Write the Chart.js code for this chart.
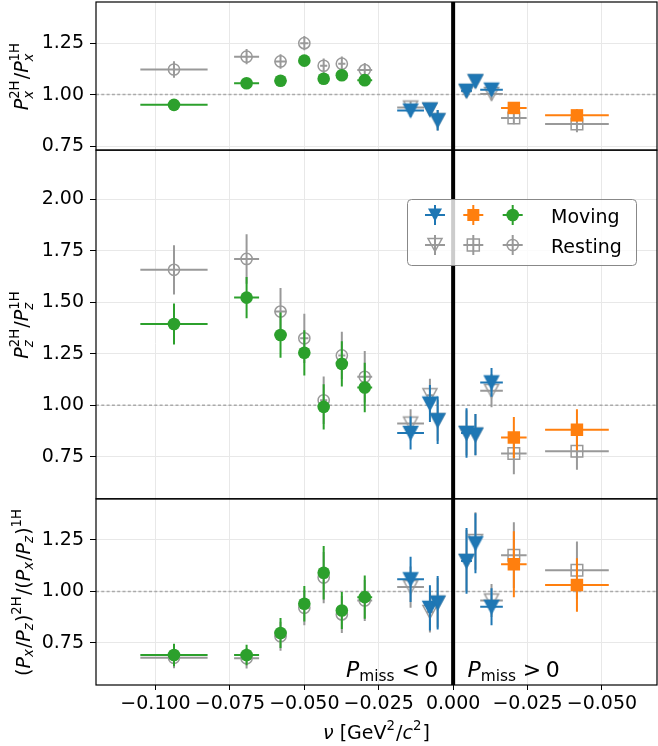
<!DOCTYPE html>
<html>
<head>
<meta charset="utf-8">
<script src="https://cdn.jsdelivr.net/npm/chart.js@4.4.1/dist/chart.umd.min.js"></script>
<style>
    body { margin: 0; background: #ffffff; }
    #wrap { width: 658px; height: 746px; position: relative; }
</style>
</head>
<body>
<div id="wrap"><canvas id="polChart"></canvas></div>
<script>
// nu of each bin. The Pmiss > 0 half of the axis is mirrored, so there axis x = -nu
const greenNu = [-0.0938, -0.0694, -0.0580, -0.0500, -0.0435, -0.0374, -0.0297];
const greenNuErr = [0.0113, 0.0042, 0.0020, 0.0014, 0.0012, 0.0012, 0.0025];
const blueNu = [-0.0143, -0.0078, -0.0052, -0.0045, -0.0075, -0.0129];
const blueNuErr = [0.0045, 0.0010, 0.0008, 0.0018, 0.0010, 0.0038];
const blueSide = [-1, -1, -1, 1, 1, 1];
const orangeNu = [-0.0204, -0.0416];
const orangeNuErr = [0.0043, 0.0107];

// P_x ratio (top panel)
const pxMoving = { green: [0.950, 1.055, 1.067, 1.165, 1.077, 1.094, 1.070], blue: [0.922, 0.927, 0.875, 1.018, 1.065, 1.024], orange: [0.935, 0.899] };
const pxMovingErr = { green: [0.015, 0.015, 0.015, 0.016, 0.016, 0.016, 0.018], blue: [0.03, 0.03, 0.05, 0.03, 0.03, 0.03], orange: [0.025, 0.03] };
const pxResting = { green: [1.122, 1.184, 1.161, 1.250, 1.140, 1.150, 1.119], blue: [0.937, 0.927, 0.875, 1.016, 1.064, 1.003], orange: [0.886, 0.857] };
const pxRestingErr = { green: [0.040, 0.037, 0.035, 0.035, 0.035, 0.035, 0.035], blue: [0.03, 0.03, 0.05, 0.03, 0.03, 0.03], orange: [0.03, 0.04] };

// P_z ratio (middle panel)
const pzMoving = { green: [1.395, 1.523, 1.341, 1.255, 0.992, 1.201, 1.086], blue: [0.865, 1.008, 0.927, 0.865, 0.857, 1.111], orange: [0.843, 0.881] };
const pzMovingErr = { green: [0.10, 0.10, 0.11, 0.11, 0.11, 0.11, 0.12], blue: [0.08, 0.09, 0.115, 0.12, 0.10, 0.07], orange: [0.10, 0.10] };
const pzResting = { green: [1.658, 1.711, 1.455, 1.325, 1.024, 1.242, 1.138], blue: [0.911, 1.049, 0.927, 0.865, 0.857, 1.070], orange: [0.765, 0.776] };
const pzRestingErr = { green: [0.12, 0.12, 0.115, 0.12, 0.115, 0.115, 0.125], blue: [0.07, 0.08, 0.10, 0.11, 0.10, 0.08], orange: [0.10, 0.09] };

// (Px/Pz) double ratio (bottom panel)
const ratioMoving = { green: [0.691, 0.691, 0.798, 0.940, 1.091, 0.907, 0.972], blue: [1.059, 0.920, 0.945, 1.148, 1.234, 0.925], orange: [1.132, 1.031] };
const ratioMovingErr = { green: [0.055, 0.05, 0.073, 0.086, 0.13, 0.09, 0.105], blue: [0.11, 0.11, 0.13, 0.16, 0.146, 0.09], orange: [0.16, 0.13] };
const ratioResting = { green: [0.677, 0.675, 0.782, 0.920, 1.067, 0.888, 0.956], blue: [1.021, 0.900, 0.945, 1.148, 1.245, 0.956], orange: [1.176, 1.103] };
const ratioRestingErr = { green: [0.05, 0.05, 0.07, 0.085, 0.125, 0.09, 0.10], blue: [0.10, 0.10, 0.12, 0.15, 0.14, 0.08], orange: [0.16, 0.14] };

const xRange = [-0.12, 0.0685];
const xTickValues = [-0.1, -0.075, -0.05, -0.025, 0, 0.025, 0.05];
const xTickLabels = ["\u22120.100", "\u22120.075", "\u22120.050", "\u22120.025", "0.000", "\u22120.025", "\u22120.050"];
const pxRange = [0.73, 1.45];
const pzRange = [0.545, 2.24];
const ratioRange = [0.545, 1.45];
const pxTicks = [0.75, 1.0, 1.25];
const pzTicks = [0.75, 1.0, 1.25, 1.5, 1.75, 2.0];
const ratioTicks = [0.75, 1.0, 1.25];

const colors = { blue: "#1f77b4", orange: "#ff7f0e", green: "#2ca02c", rest: "#999999" };
const FONT = '"DejaVu Sans", sans-serif';
const tickFont = { family: "DejaVu Sans", size: 19 };

function axisX(nu, side) {
    return side > 0 ? -nu : nu;
}

const groups = {
    green: { nu: greenNu, err: greenNuErr, side: greenNu.map(() => -1) },
    blue: { nu: blueNu, err: blueNuErr, side: blueSide },
    orange: { nu: orangeNu, err: orangeNuErr, side: orangeNu.map(() => 1) },
};

function triangleMarker(fill, stroke) {
    const c = document.createElement("canvas");
    c.width = 18;
    c.height = 18;
    const g = c.getContext("2d");
    g.beginPath();
    g.moveTo(2, 2.5);
    g.lineTo(16, 2.5);
    g.lineTo(9, 15.5);
    g.closePath();
    g.lineWidth = 1.5;
    if (fill) {
        g.fillStyle = fill;
        g.fill();
        g.strokeStyle = fill;
        g.stroke();
    } else {
        g.strokeStyle = stroke;
        g.stroke();
    }
    return c;
}

const markerStyles = {
    green: {
        moving: { pointStyle: "circle", pointRadius: 6.3, pointBackgroundColor: colors.green, pointBorderColor: colors.green, pointBorderWidth: 0 },
        resting: { pointStyle: "circle", pointRadius: 5.6, pointBackgroundColor: "rgba(0,0,0,0)", pointBorderColor: colors.rest, pointBorderWidth: 1.5 },
    },
    orange: {
        moving: { pointStyle: "rect", pointRadius: 8.8, pointBackgroundColor: colors.orange, pointBorderColor: colors.orange, pointBorderWidth: 0 },
        resting: { pointStyle: "rect", pointRadius: 8.2, pointBackgroundColor: "rgba(0,0,0,0)", pointBorderColor: colors.rest, pointBorderWidth: 1.5 },
    },
    blue: {
        moving: { pointStyle: triangleMarker(colors.blue, null), pointRadius: 6 },
        resting: { pointStyle: triangleMarker(null, colors.rest), pointRadius: 6 },
    },
};

const panels = [
    { id: "yPx", moving: pxMoving, movingErr: pxMovingErr, resting: pxResting, restingErr: pxRestingErr },
    { id: "yPz", moving: pzMoving, movingErr: pzMovingErr, resting: pzResting, restingErr: pzRestingErr },
    { id: "yRatio", moving: ratioMoving, movingErr: ratioMovingErr, resting: ratioResting, restingErr: ratioRestingErr },
];

function makePoints(color, values, errs) {
    const g = groups[color];
    return values.map((v, i) => ({
        x: axisX(g.nu[i], g.side[i]),
        y: v,
        xe: g.err[i],
        ye: errs[i],
    }));
}

const datasets = [];
panels.forEach((p) => {
    ["green", "blue", "orange"].forEach((color) => {
        datasets.push(Object.assign({
            label: color + " resting",
            yAxisID: p.id,
            order: 2,
            errColor: colors.rest,
            data: makePoints(color, p.resting[color], p.restingErr[color]),
        }, markerStyles[color].resting));
        datasets.push(Object.assign({
            label: color + " moving",
            yAxisID: p.id,
            order: 1,
            errColor: colors[color],
            data: makePoints(color, p.moving[color], p.movingErr[color]),
        }, markerStyles[color].moving));
    });
});

function yScale(range, ticks) {
    return {
        type: "linear",
        position: "left",
        stack: "panels",
        stackWeight: range[1] - range[0],
        min: range[0],
        max: range[1],
        afterBuildTicks: (s) => { s.ticks = ticks.map((v) => ({ value: v })); },
        afterFit: (s) => { s.width = 96; s.paddingTop = 0; s.paddingBottom = 0; },
        ticks: { callback: (v) => v.toFixed(2), font: tickFont, color: "#000000", padding: 6 },
        grid: { color: "#e8e8e8", lineWidth: 1, tickColor: "#000000", tickLength: 6 },
        border: { display: false },
    };
}

// error bars drawn just before each dataset's markers, clipped to its panel
const errorBars = {
    id: "errorBars",
    beforeDatasetDraw(chart, args) {
        const ds = chart.data.datasets[args.index];
        const xs = chart.scales.x;
        const ys = chart.scales[ds.yAxisID];
        const area = chart.chartArea;
        const ctx = chart.ctx;
        ctx.save();
        ctx.beginPath();
        ctx.rect(area.left, ys.top, area.right - area.left, ys.bottom - ys.top);
        ctx.clip();
        ctx.strokeStyle = ds.errColor;
        ctx.lineWidth = 2;
        ds.data.forEach((pt) => {
            const cx = xs.getPixelForValue(pt.x);
            const cy = ys.getPixelForValue(pt.y);
            ctx.beginPath();
            ctx.moveTo(xs.getPixelForValue(pt.x - pt.xe), cy);
            ctx.lineTo(xs.getPixelForValue(pt.x + pt.xe), cy);
            ctx.moveTo(cx, ys.getPixelForValue(pt.y - pt.ye));
            ctx.lineTo(cx, ys.getPixelForValue(pt.y + pt.ye));
            ctx.stroke();
        });
        ctx.restore();
    },
};

function fontOf(size, italic) {
    return (italic ? "italic " : "") + size + "px " + FONT;
}

function partWidth(ctx, p, size) {
    if (p.gap !== undefined) return p.gap * size;
    if (p.t !== undefined) {
        ctx.font = fontOf(size, p.i);
        return ctx.measureText(p.t).width;
    }
    const s = size * 0.7;
    let w = 0;
    if (p.sub) {
        ctx.font = fontOf(s, p.subI);
        w = Math.max(w, ctx.measureText(p.sub).width);
    }
    if (p.sup) {
        ctx.font = fontOf(s, false);
        w = Math.max(w, ctx.measureText(p.sup).width);
    }
    return w + size * 0.06;
}

function richWidth(ctx, parts, size) {
    return parts.reduce((w, p) => w + partWidth(ctx, p, size), 0);
}

function drawRich(ctx, parts, x, y, size) {
    parts.forEach((p) => {
        if (p.t !== undefined) {
            ctx.font = fontOf(size, p.i);
            ctx.fillText(p.t, x, y);
        } else if (p.gap === undefined) {
            const s = size * 0.7;
            if (p.sup) {
                ctx.font = fontOf(s, false);
                ctx.fillText(p.sup, x, y - size * 0.47);
            }
            if (p.sub) {
                ctx.font = fontOf(s, p.subI);
                ctx.fillText(p.sub, x, y + size * (p.sup ? 0.3 : 0.17));
            }
        }
        x += partWidth(ctx, p, size);
    });
}

function drawVertical(ctx, parts, xBase, yCenter, size) {
    const w = richWidth(ctx, parts, size);
    ctx.save();
    ctx.translate(xBase, yCenter);
    ctx.rotate(-Math.PI / 2);
    drawRich(ctx, parts, -w / 2, 0, size);
    ctx.restore();
}

const pxLabel = [{ t: "P", i: 1 }, { sub: "x", subI: 1, sup: "2H" }, { t: "/" }, { t: "P", i: 1 }, { sub: "x", subI: 1, sup: "1H" }];
const pzLabel = [{ t: "P", i: 1 }, { sub: "z", subI: 1, sup: "2H" }, { t: "/" }, { t: "P", i: 1 }, { sub: "z", subI: 1, sup: "1H" }];
const ratioLabel = [
    { t: "(" }, { t: "P", i: 1 }, { sub: "x", subI: 1 }, { t: "/" }, { t: "P", i: 1 }, { sub: "z", subI: 1 }, { t: ")" }, { sup: "2H" },
    { t: "/(" }, { t: "P", i: 1 }, { sub: "x", subI: 1 }, { t: "/" }, { t: "P", i: 1 }, { sub: "z", subI: 1 }, { t: ")" }, { sup: "1H" },
];
const xLabel = [{ t: "\u03bd", i: 1 }, { t: " [GeV" }, { sup: "2" }, { t: "/" }, { t: "c", i: 1 }, { sup: "2" }, { t: "]" }];
const missNeg = [{ t: "P", i: 1 }, { sub: "miss" }, { gap: 0.25 }, { t: "<" }, { gap: 0.2 }, { t: "0" }];
const missPos = [{ t: "P", i: 1 }, { sub: "miss" }, { gap: 0.25 }, { t: ">" }, { gap: 0.2 }, { t: "0" }];

function drawMarker(ctx, kind, filled, color, x, y) {
    ctx.save();
    ctx.strokeStyle = color;
    ctx.lineWidth = 2;
    ctx.beginPath();
    ctx.moveTo(x - 10, y);
    ctx.lineTo(x + 10, y);
    ctx.moveTo(x, y - 10);
    ctx.lineTo(x, y + 10);
    ctx.stroke();
    ctx.lineWidth = 1.5;
    ctx.fillStyle = color;
    ctx.beginPath();
    if (kind === "tri") {
        ctx.moveTo(x - 7, y - 6.5);
        ctx.lineTo(x + 7, y - 6.5);
        ctx.lineTo(x, y + 6.5);
        ctx.closePath();
    } else if (kind === "sq") {
        ctx.rect(x - 6, y - 6, 12, 12);
    } else {
        ctx.arc(x, y, filled ? 6.3 : 5.6, 0, Math.PI * 2);
    }
    if (filled) ctx.fill(); else ctx.stroke();
    ctx.restore();
}

const decorations = {
    id: "decorations",
    beforeDatasetsDraw(chart) {
        const { ctx, chartArea, scales } = chart;
        ctx.save();
        ctx.strokeStyle = "#aaaaaa";
        ctx.lineWidth = 1.5;
        ctx.setLineDash([3, 2.3]);
        panels.forEach((p) => {
            const y = scales[p.id].getPixelForValue(1);
            ctx.beginPath();
            ctx.moveTo(chartArea.left, y);
            ctx.lineTo(chartArea.right, y);
            ctx.stroke();
        });
        ctx.setLineDash([]);
        const x0 = scales.x.getPixelForValue(0);
        ctx.strokeStyle = "#000000";
        ctx.lineWidth = 4;
        ctx.beginPath();
        ctx.moveTo(x0, chartArea.top);
        ctx.lineTo(x0, chartArea.bottom);
        ctx.stroke();
        ctx.restore();
    },
    afterDraw(chart) {
        const { ctx, chartArea, scales } = chart;
        ctx.save();
        // panel frames
        ctx.strokeStyle = "#000000";
        ctx.lineWidth = 1.2;
        panels.forEach((p) => {
            const s = scales[p.id];
            ctx.strokeRect(chartArea.left, s.top, chartArea.right - chartArea.left, s.bottom - s.top);
        });

        ctx.fillStyle = "#000000";
        ctx.textBaseline = "alphabetic";
        drawVertical(ctx, pxLabel, 27.5, (scales.yPx.top + scales.yPx.bottom) / 2, 19);
        drawVertical(ctx, pzLabel, 27.5, (scales.yPz.top + scales.yPz.bottom) / 2, 19);
        drawVertical(ctx, ratioLabel, 29.5, (scales.yRatio.top + scales.yRatio.bottom) / 2, 19);

        const xw = richWidth(ctx, xLabel, 19);
        drawRich(ctx, xLabel, (chartArea.left + chartArea.right) / 2 - xw / 2, 739, 19);

        const yb = scales.yRatio.getPixelForValue(0.585);
        const wNeg = richWidth(ctx, missNeg, 22);
        drawRich(ctx, missNeg, scales.x.getPixelForValue(-0.005) - wNeg, yb, 22);
        drawRich(ctx, missPos, scales.x.getPixelForValue(0.0048), yb, 22);

        // legend
        const lx = 407.5, ly = 199.5, lw = 229, lh = 66;
        ctx.beginPath();
        ctx.roundRect(lx, ly, lw, lh, 4);
        ctx.fillStyle = "rgba(255,255,255,0.8)";
        ctx.fill();
        ctx.strokeStyle = "#888888";
        ctx.lineWidth = 1;
        ctx.stroke();
        const rows = [215, 245];
        drawMarker(ctx, "tri", true, colors.blue, 435, rows[0]);
        drawMarker(ctx, "sq", true, colors.orange, 473.3, rows[0]);
        drawMarker(ctx, "circ", true, colors.green, 512.7, rows[0]);
        drawMarker(ctx, "tri", false, colors.rest, 435, rows[1]);
        drawMarker(ctx, "sq", false, colors.rest, 473.3, rows[1]);
        drawMarker(ctx, "circ", false, colors.rest, 512.7, rows[1]);
        ctx.fillStyle = "#000000";
        ctx.font = fontOf(19, false);
        ctx.fillText("Moving", 551, 222.5);
        ctx.fillText("Resting", 551, 252.5);
        ctx.restore();
    },
};

new Chart(document.getElementById("polChart").getContext("2d"), {
    type: "scatter",
    data: { datasets: datasets },
    options: {
        responsive: true,
        maintainAspectRatio: false,
        animation: false,
        events: [],
        layout: { autoPadding: false, padding: { top: 2, right: 1, left: 0, bottom: 0 } },
        plugins: {
            legend: { display: false },
            tooltip: { enabled: false },
        },
        scales: {
            x: {
                type: "linear",
                min: xRange[0],
                max: xRange[1],
                afterBuildTicks: (s) => { s.ticks = xTickValues.map((v) => ({ value: v })); },
                afterFit: (s) => { s.height = 61; s.paddingLeft = 0; s.paddingRight = 0; },
                ticks: { callback: (v, i) => xTickLabels[i], autoSkip: false, maxRotation: 0, font: tickFont, color: "#000000", padding: 3 },
                grid: { color: "#e8e8e8", lineWidth: 1, tickColor: "#000000", tickLength: 5 },
                border: { display: false },
            },
            yRatio: yScale(ratioRange, ratioTicks),
            yPz: yScale(pzRange, pzTicks),
            yPx: yScale(pxRange, pxTicks),
        },
    },
    plugins: [errorBars, decorations],
});
</script>
</body>
</html>
